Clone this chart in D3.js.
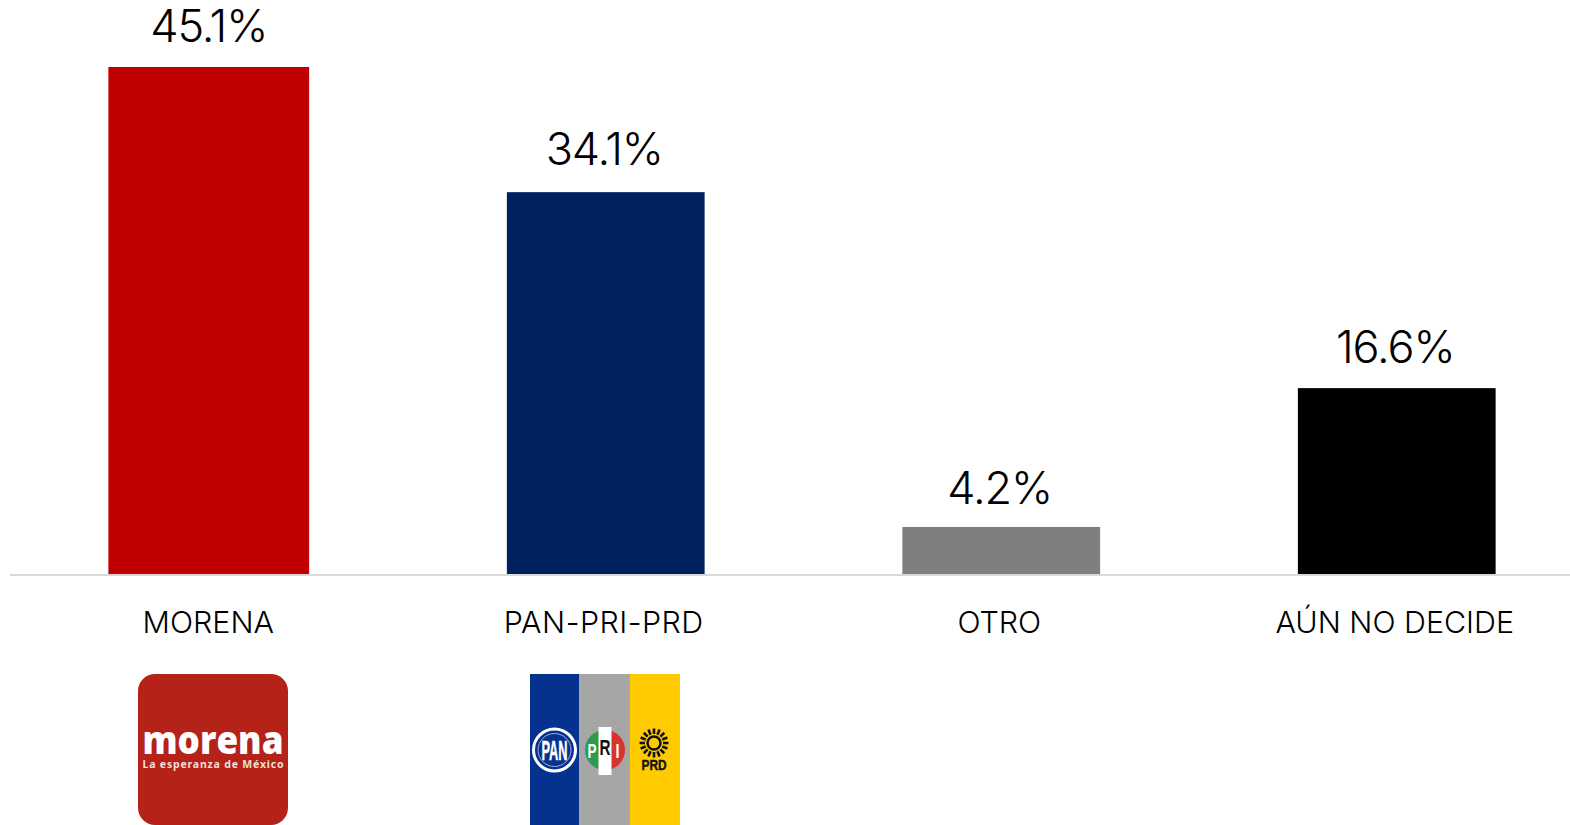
<!DOCTYPE html>
<html lang="en">
<head>
<meta charset="UTF-8">
<title>Preferencia electoral</title>
<script src="https://d3js.org/d3.v7.min.js"></script>
<style>
  html, body { margin: 0; padding: 0; background: #fff; }
  svg { display: block; }
  text { font-family: Inter, "Noto Sans", sans-serif; }
</style>
</head>
<body>
<script>
var categories = ["MORENA", "PAN-PRI-PRD", "OTRO", "AÚN NO DECIDE"];
var values = [45.1, 34.1, 4.2, 16.6];
var barColors = ["#c00000", "#002060", "#7f7f7f", "#000000"];

var width = 1570, height = 825;
var baseline = 574;

var svg = d3.select("body").append("svg")
    .attr("width", width)
    .attr("height", height);

var xScale = d3.scaleBand()
    .domain(categories)
    .range([12.5, 1594.5])
    .paddingInner(0.5)
    .paddingOuter(0.25);

var yScale = d3.scaleLinear()
    .domain([0, 45.1])
    .range([baseline, 69]);

var bw = xScale.bandwidth();

var xAxis = d3.axisBottom(xScale).tickSize(0).tickPadding(37);
var axisG = svg.append("g")
    .attr("transform", "translate(0," + (baseline + 0.5) + ")")
    .call(xAxis);
// line starts left of the first band and runs off the right edge
axisG.select("path.domain")
    .attr("d", "M10,0.5H" + width)
    .attr("stroke", "#d9d9d9")
    .attr("stroke-width", 2);
axisG.selectAll("text")
    .attr("font-size", 30.4)
    .attr("font-weight", 350)
    .attr("font-family", "Inter, sans-serif")
    .attr("letter-spacing", function(d) { return d == "PAN-PRI-PRD" ? 0.5 : 0; })
    .attr("dx", -2)
    .attr("fill", "#000");

// first bar is a bit bigger in the original
svg.selectAll("rect.bar").data(values).enter()
    .append("rect")
    .attr("class", "bar")
    .attr("x", function(d, i) { return xScale(categories[i]) - (i == 0 ? 3 : 0); })
    .attr("y", function(d, i) { return yScale(d) - (i == 0 ? 2 : 0); })
    .attr("width", function(d, i) { return i == 0 ? bw + 3 : bw; })
    .attr("height", function(d, i) { return baseline - yScale(d) + (i == 0 ? 2 : 0); })
    .attr("fill", function(d, i) { return barColors[i]; });

// label gaps are not quite even in the original
var labelNudge = [-2, -2, 3, 0];
svg.selectAll("text.val").data(values).enter()
    .append("text")
    .attr("class", "val")
    .attr("x", function(d, i) { return xScale(categories[i]) + bw / 2 - 1.5; })
    .attr("y", function(d, i) { return yScale(d) - 25.5 + labelNudge[i]; })
    .attr("text-anchor", "middle")
    .attr("font-size", 45)
    .attr("font-weight", 350)
    .attr("letter-spacing", -1.1)
    .attr("fill", "#000")
    .text(function(d) { return d.toFixed(1) + "%"; });

// morena logo
var morena = svg.append("g").attr("transform", "translate(138,674)");
morena.append("rect").attr("width", 150).attr("height", 151).attr("rx", 17).attr("fill", "#b52217");
morena.append("text").attr("x", 75).attr("y", 80).attr("text-anchor", "middle")
    .attr("font-size", 38).attr("font-weight", 800).attr("fill", "#fff")
    .style("font-family", "Open Sans")
    .attr("textLength", 141).attr("lengthAdjust", "spacingAndGlyphs").text("morena");
morena.append("text").attr("x", 75).attr("y", 93.5).attr("text-anchor", "middle")
    .attr("font-size", 10.5).attr("font-weight", 700).attr("fill", "#f5ded9")
    .style("font-family", "Noto Sans")
    .attr("textLength", 141).text("La esperanza de México");

// coalition logo
var stripeColors = ["#06328f", "#a6a6a6", "#ffcb00"];
var coalition = svg.append("g").attr("transform", "translate(530,674)");
coalition.selectAll("rect").data(stripeColors).enter().append("rect")
    .attr("x", function(d, i) { return i * 50 - (i == 1 ? 1 : 0); })
    .attr("width", function(d, i) { return i == 1 ? 51 : 50; })
    .attr("height", 151)
    .attr("fill", function(d) { return d; });

// PAN
coalition.append("circle").attr("cx", 24.5).attr("cy", 76).attr("r", 21)
    .attr("fill", "none").attr("stroke", "#fff").attr("stroke-width", 3);
coalition.append("circle").attr("cx", 24.5).attr("cy", 76).attr("r", 16.5)
    .attr("fill", "none").attr("stroke", "#9fb3dc").attr("stroke-width", 1);
coalition.append("text").attr("x", 24.5).attr("y", 86).attr("text-anchor", "middle")
    .attr("font-size", 28).attr("font-weight", 700).attr("fill", "#fff")
    .attr("stroke", "#fff").attr("stroke-width", 0.5)
    .style("font-family", "Liberation Sans Narrow, Liberation Sans").attr("textLength", 26)
    .attr("lengthAdjust", "spacingAndGlyphs").text("PAN");

// PRI
coalition.append("clipPath").attr("id", "pri-clip")
    .append("circle").attr("cx", 75).attr("cy", 76).attr("r", 20);
var pri = coalition.append("g").attr("clip-path", "url(#pri-clip)");
pri.append("rect").attr("x", 55).attr("y", 56).attr("width", 14).attr("height", 40).attr("fill", "#2e9a4d");
pri.append("rect").attr("x", 81).attr("y", 56).attr("width", 14).attr("height", 40).attr("fill", "#d9342b");
coalition.append("rect").attr("x", 68.5).attr("y", 53).attr("width", 13).attr("height", 48).attr("fill", "#fff");
[["P", 62, 84, "#fff", 9], ["R", 75, 81, "#111", 11], ["I", 87.5, 84, "#fff", 4]].forEach(function(p) {
  coalition.append("text").attr("x", p[1]).attr("y", p[2]).attr("text-anchor", "middle")
      .attr("font-size", p[1] == 75 ? 22 : 20).attr("font-weight", 700).attr("fill", p[3])
      .style("font-family", "Liberation Sans")
      .attr("textLength", p[4]).attr("lengthAdjust", "spacingAndGlyphs").text(p[0]);
});

// PRD
var sun = coalition.append("g").attr("transform", "translate(124,69)");
sun.append("circle").attr("r", 6.5).attr("fill", "none").attr("stroke", "#111").attr("stroke-width", 2.5);
d3.range(16).forEach(function(i) {
  sun.append("line")
      .attr("y1", -9).attr("y2", -14.5)
      .attr("stroke", "#111").attr("stroke-width", 2.6)
      .attr("transform", "rotate(" + (i * 22.5) + ")");
});
coalition.append("text").attr("x", 124).attr("y", 96).attr("text-anchor", "middle")
    .attr("font-size", 14).attr("font-weight", 700).attr("fill", "#111")
    .attr("stroke", "#111").attr("stroke-width", 0.4)
    .style("font-family", "Liberation Sans")
    .attr("textLength", 25).attr("lengthAdjust", "spacingAndGlyphs").text("PRD");
</script>
</body>
</html>
